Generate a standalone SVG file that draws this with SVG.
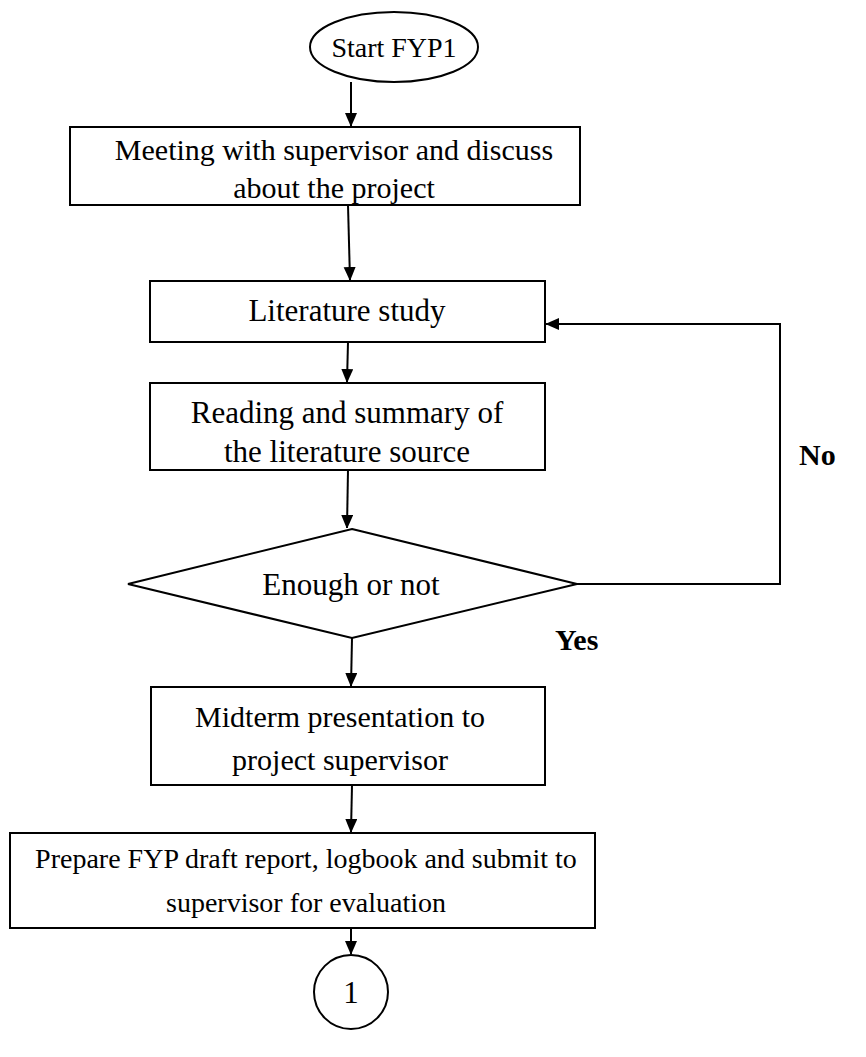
<svg xmlns="http://www.w3.org/2000/svg" width="866" height="1057" viewBox="0 0 866 1057">
<style>
.s{fill:#fff;stroke:#000;stroke-width:2}
.t{font-family:"Liberation Serif",serif;font-size:28px;fill:#000;text-anchor:middle}
.m{font-size:30px}
.l{font-size:31px}
.b{font-family:"Liberation Serif",serif;font-size:30px;font-weight:bold;fill:#000}
.c{fill:none;stroke:#000;stroke-width:2;marker-end:url(#ah)}
</style>
<defs>
<marker id="ah" markerWidth="12" markerHeight="14" refX="13" refY="6" orient="auto" markerUnits="userSpaceOnUse">
<path d="M0,0 L14,6 L0,12 z" fill="#000"/>
</marker>
</defs>
<g id="start"><ellipse class="s" cx="394" cy="47" rx="84" ry="35"/><text class="t" x="394" y="57">Start FYP1</text></g>
<g id="meeting"><rect class="s" x="70" y="127" width="510" height="78"/><text class="t m" x="334" y="160">Meeting with supervisor and discuss</text><text class="t m" x="334" y="198">about the project</text></g>
<g id="literature"><rect class="s" x="150" y="281" width="395" height="61"/><text class="t l" x="347" y="321">Literature study</text></g>
<g id="reading"><rect class="s" x="150" y="383" width="395" height="87"/><text class="t l" x="347" y="423">Reading and summary of</text><text class="t l" x="347" y="462">the literature source</text></g>
<g id="decision"><polygon class="s" points="352,529 577,584 352,638 128,584"/><text class="t l" x="351" y="595">Enough or not</text></g>
<g id="midterm"><rect class="s" x="151" y="687" width="394" height="98"/><text class="t m" x="340" y="727">Midterm presentation to</text><text class="t m" x="340" y="770">project supervisor</text></g>
<g id="prepare"><rect class="s" x="10" y="833" width="585" height="95"/><text class="t" x="306" y="868">Prepare FYP draft report, logbook and submit to</text><text class="t" x="306" y="912">supervisor for evaluation</text></g>
<g id="connector1"><circle class="s" cx="351" cy="992" r="37"/><text class="t l" x="351" y="1003">1</text></g>
<g id="connectors">
<path class="c" d="M351,82 L351,126"/>
<path class="c" d="M348,205 L350,280"/>
<path class="c" d="M348,342 L347,382"/>
<path class="c" d="M348,470 L347,528"/>
<path class="c" d="M352,638 L351,686"/>
<path class="c" d="M352,785 L351,832"/>
<path class="c" d="M351,928 L351,954"/>
<path class="c" d="M577,584 L780,584 L780,324 L546,324"/>
</g>
<text class="b" x="799" y="465">No</text>
<text class="b" x="555" y="650">Yes</text>
</svg>
